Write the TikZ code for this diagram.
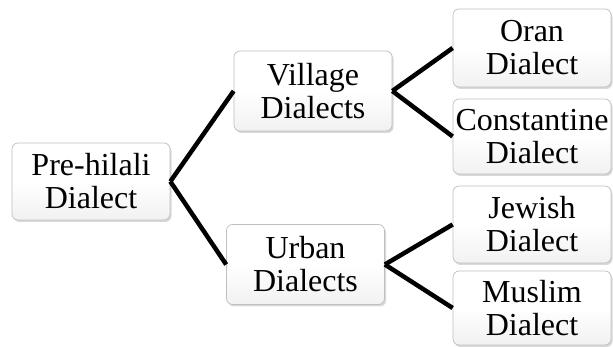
\documentclass[tikz,border=0pt]{standalone}
\usepackage{fontspec}
\setmainfont{Liberation Serif}
\usetikzlibrary{shadows}
\pgfdeclareverticalshading{boxshade}{100bp}{
  color(0bp)=(black!45); color(8bp)=(black!20); color(22bp)=(black!6);
  color(50bp)=(white); color(88bp)=(white); color(100bp)=(black!6)}
\begin{document}
\begin{tikzpicture}[x=1pt,y=-1pt,
  box/.style={draw=gray!50, line width=0.7pt, rounded corners=6pt,
    shading=boxshade,
    minimum width=158pt, minimum height=77pt, inner sep=0pt,
    align=center, font=\fontsize{32}{33}\selectfont,
    drop shadow={shadow xshift=1.5pt, shadow yshift=-2pt, opacity=0.3, fill=gray}},
  conn/.style={line width=4.5pt, black}]
\useasboundingbox (0,0) rectangle (613,347);
\node[box] (pre) at (91,181.5) {Pre-hilali\\Dialect};
\node[box, minimum height=80pt] (vil) at (313,91) {Village\\Dialects};
\node[box, minimum height=80pt] (urb) at (305.5,264.5) {Urban\\Dialects};
\node[box, minimum height=78pt] (ora) at (532,48) {Oran\\Dialect};
\node[box, minimum height=75pt] (con) at (532,136.5) {Constantine\\Dialect};
\node[box, minimum height=77pt] (jew) at (532,224.5) {Jewish\\Dialect};
\node[box, minimum height=74pt] (mus) at (532,308) {Muslim\\Dialect};
\draw[conn] (pre.east) -- (vil.west);
\draw[conn] (pre.east) -- (urb.west);
\draw[conn] (vil.east) -- (ora.west);
\draw[conn] (vil.east) -- (con.west);
\draw[conn] (urb.east) -- (jew.west);
\draw[conn] (urb.east) -- (mus.west);
\end{tikzpicture}
\end{document}
